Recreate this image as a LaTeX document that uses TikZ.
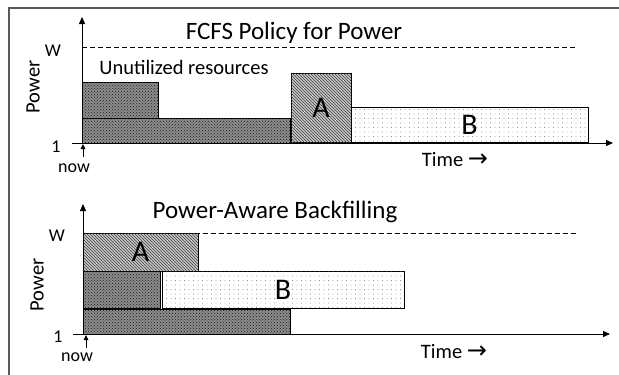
\documentclass[tikz,border=0pt]{standalone}
\usepackage{fontspec}
\setmainfont{Carlito}
\newfontfamily\arrowfont{DejaVu Sans}
\usetikzlibrary{patterns,patterns.meta,arrows.meta}

\newcommand{\timearrow}{{\arrowfont\fontsize{24}{24}\selectfont →}}

\tikzset{
  jobbox/.style={draw=black, line width=0.9pt, inner sep=0pt, outer sep=0pt, anchor=north west},
  darkjob/.style={jobbox, fill=black!45, postaction={pattern=crosshatch dots, pattern color=black!90}},
  jobA/.style={jobbox, fill=black!22, postaction={pattern=north west lines, pattern color=black!75},
    font=\fontsize{30}{32}\selectfont},
  jobB/.style={jobbox, fill=white, postaction={pattern={Dots[distance=4.5pt,radius=0.4pt]}, pattern color=black!70},
    font=\fontsize{30}{32}\selectfont},
  axis/.style={line width=1pt, -{Triangle[length=7pt,width=6pt]}},
  nowarrow/.style={line width=1pt, -{Triangle[length=5pt,width=4.5pt]}},
  limit/.style={line width=0.9pt, dash pattern=on 5pt off 3pt},
  title/.style={font=\fontsize{25}{28}\selectfont},
  lbl/.style={font=\fontsize{20.5}{22}\selectfont},
  small/.style={font=\fontsize{18}{20}\selectfont},
}

\begin{document}
\begin{tikzpicture}[x=1pt,y=-1pt]
\useasboundingbox (0,0) rectangle (619,375);
% outer frame (top and left edges)
\draw[black!65, line width=1.3pt] (9,375) -- (9,8) -- (619,8);

% ---------------- FCFS panel ----------------
\node[title] (t1) at (294,33) {FCFS Policy for Power};
\draw[limit] (82,47) coordinate (w1a) -- (577,47) coordinate (w1b);
\node[small] (w1) at (53,51) {W};
\node[lbl] (u1txt) at (184,67) {Unutilized resources};
\node[darkjob, minimum width=76, minimum height=36] (r1a) at (82,82) {};
\node[darkjob, minimum width=208, minimum height=25] (r1b) at (82,118) {};
\node[jobA, minimum width=60, minimum height=69] (a1) at (291,73) {A};
\node[jobB, minimum width=237, minimum height=35] (b1) at (351,107) {B};
\coordinate (o1) at (82,143);
\coordinate (y1) at (82,17);
\coordinate (s1) at (72,143);
\coordinate (x1) at (613,143);
\draw[axis] (o1) -- (y1);
\draw[axis] (s1) -- (x1);
\node[small] (one1) at (56,147) {1};
\node[small] (now1) at (74,168) {now};
\coordinate (n1) at (83,157);
\coordinate (n1t) at (83,144);
\draw[nowarrow] (n1) -- (n1t);
\node[lbl, rotate=90] (p1) at (33,87) {Power};
\node[lbl] (time1) at (455,160) {Time \timearrow};

% ---------------- Backfilling panel ----------------
\node[title] (t2) at (275,212) {Power-Aware Backfilling};
\draw[limit] (83,233) coordinate (w2a) -- (578,233) coordinate (w2b);
\node[small] (w2) at (57,236) {W};
\node[jobA, minimum width=115, minimum height=38] (a2) at (83,233) {A};
\node[darkjob, minimum width=77, minimum height=37] (r2a) at (83,271) {};
\node[jobB, minimum width=242, minimum height=37] (b2) at (162,271) {B};
\node[darkjob, minimum width=207, minimum height=25] (r2b) at (83,309) {};
\coordinate (o2) at (83,334);
\coordinate (y2) at (83,204);
\coordinate (s2) at (73,334);
\coordinate (x2) at (610,334);
\draw[axis] (o2) -- (y2);
\draw[axis] (s2) -- (x2);
\node[small] (one2) at (58,337) {1};
\node[small] (now2) at (77,357) {now};
\coordinate (n2) at (86,348);
\coordinate (n2t) at (86,335);
\draw[nowarrow] (n2) -- (n2t);
\node[lbl, rotate=90] (p2) at (37,285) {Power};
\node[lbl] (time2) at (454,352) {Time \timearrow};
\end{tikzpicture}
\end{document}
